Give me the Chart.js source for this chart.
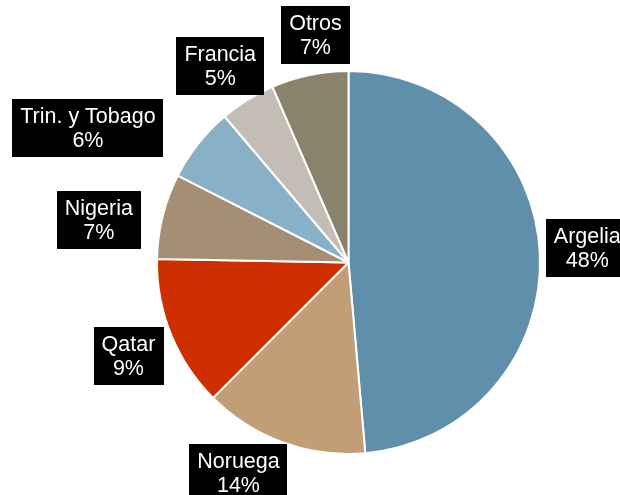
<!DOCTYPE html>
<html>
<head>
<meta charset="utf-8">
<script src="https://cdn.jsdelivr.net/npm/chart.js@4/dist/chart.umd.min.js"></script>
<style>
html,body{margin:0;padding:0;background:#fff;}
#wrap{width:620px;height:495px;position:relative;}
</style>
</head>
<body>
<div id="wrap"><canvas id="c" width="620" height="495"></canvas></div>
<script>
// Data (slice sizes), with the printed percentage labels
const categories = ["Argelia", "Noruega", "Qatar", "Nigeria", "Trin. y Tobago", "Francia", "Otros"];
const shares = [48.6, 13.9, 12.8, 7.2, 6.3, 4.7, 6.5];
const pctLabels = ["48%", "14%", "9%", "7%", "6%", "5%", "7%"];

const colors = ["#5f8fab", "#c29e77", "#cf2f00", "#a58e74", "#88b0c6", "#c4bdb5", "#89836b"];

const boxLabels = {
  id: 'boxLabels',
  afterDatasetsDraw(chart, args, opts) {
    const ctx = chart.ctx;
    const meta = chart.getDatasetMeta(0);
    const fontSize = opts.fontSize, lineH = opts.lineHeight;
    const padX = opts.padX, padY = opts.padY, gap = opts.gap;
    ctx.save();
    ctx.font = fontSize + 'px "Liberation Sans", Arial, sans-serif';
    ctx.textAlign = 'center';
    ctx.textBaseline = 'middle';
    meta.data.forEach((arc, i) => {
      const lines = [categories[i], pctLabels[i]];
      const tw = Math.max(...lines.map(l => ctx.measureText(l).width));
      const hw = tw / 2 + padX;
      const hh = lines.length * lineH / 2 + padY;
      const mid = (arc.startAngle + arc.endAngle) / 2;
      const ux = Math.cos(mid), uy = Math.sin(mid);
      const ext = Math.min(Math.abs(ux) > 1e-6 ? hw / Math.abs(ux) : Infinity,
                           Math.abs(uy) > 1e-6 ? hh / Math.abs(uy) : Infinity);
      const d = arc.outerRadius + gap + ext;
      const nudge = opts.nudge[i] || [0, 0];
      const cx = arc.x + ux * d + nudge[0];
      const cy = arc.y + uy * d + nudge[1];
      ctx.fillStyle = '#000';
      ctx.fillRect(Math.round(cx - hw), Math.round(cy - hh), Math.round(hw * 2), Math.round(hh * 2));
      ctx.fillStyle = '#fff';
      lines.forEach((l, k) => {
        ctx.fillText(l, cx, cy + (k - (lines.length - 1) / 2) * lineH + 1);
      });
    });
    ctx.restore();
  }
};

new Chart(document.getElementById('c'), {
  type: 'pie',
  data: {
    labels: categories,
    datasets: [{
      data: shares,
      backgroundColor: colors,
      borderColor: '#ffffff',
      borderWidth: 2
    }]
  },
  options: {
    responsive: false,
    animation: false,
    layout: { padding: { left: 156, right: 79, top: 70, bottom: 40 } },
    plugins: {
      legend: { display: false },
      tooltip: { enabled: false },
      boxLabels: {
        fontSize: 21.5, lineHeight: 24, padX: 8, padY: 5, gap: 6,
        nudge: [[0, -4], [-32, -4], [-2, 6], [-16, 16], [-69, 17], [-6, 0], [13, -5]]
      }
    }
  },
  plugins: [boxLabels]
});
</script>
</body>
</html>
